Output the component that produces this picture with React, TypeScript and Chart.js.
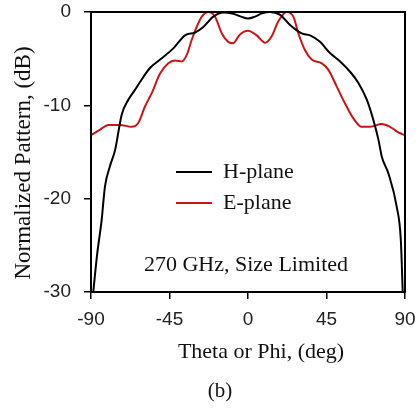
import React, { useEffect, useRef } from "react";
import { Chart, registerables } from "chart.js";

Chart.register(...registerables);

const hTheta = [-88.7, -86.5, -83.9, -82, -79.1, -76.2, -72.4, -68.6, -65, -61.9, -56.2, -50.4, -42.8, -36.1, -30.4, -25.6, -19.9, -14.1, -8.4, -4, 0, 4, 8, 12.6, 18.4, 24.1, 30.8, 35.6, 41.3, 47, 52.8, 58.5, 63.3, 68.1, 71.9, 74.8, 76.7, 80.5, 85.3, 87.6, 88.7];
const hValues = [-30, -26, -22.3, -18.7, -16.5, -14.8, -11.0, -9.4, -8.4, -7.5, -6.0, -5.1, -3.9, -2.5, -2.2, -1.6, -0.5, -0.05, -0.2, -0.5, -0.7, -0.5, -0.15, 0, -0.3, -1.4, -2.3, -2.5, -3.2, -4.4, -5.3, -6.4, -7.6, -9.4, -11.6, -13.7, -15.5, -17.3, -20.9, -24.4, -30];

const eTheta = [-90, -84.8, -80, -73.4, -66.7, -62.9, -59, -55.2, -50.4, -45.7, -41.8, -38, -35.1, -32.3, -29.4, -26.5, -22.7, -18.9, -15, -11.3, -8.6, -4.6, 0, 5, 9.8, 13.6, 17.4, 22.2, 26, 28.9, 32.7, 36.5, 42.3, 46.1, 50.9, 55.6, 60.4, 65.2, 70, 76.7, 81.4, 86.2, 90];
const eValues = [-13.2, -12.6, -12.1, -12.1, -12.3, -11.9, -10.1, -8.7, -6.6, -5.5, -5.2, -5.3, -4.6, -3.0, -1.6, -0.5, 0, -0.5, -2.3, -3.2, -3.35, -2.4, -2.0, -2.5, -3.3, -2.6, -1.0, 0, -0.5, -2.3, -4.1, -5.1, -5.5, -6.2, -8.0, -9.8, -11.4, -12.3, -12.3, -12.0, -12.3, -12.9, -13.2];

const xTicks = [-90, -45, 0, 45, 90];
const yTicks = [-30, -20, -10, 0];
const seriesLabels = ["H-plane", "E-plane"];
const seriesColors = ["#000000", "#cc1414"];
const xTitle = "Theta or Phi, (deg)";
const yTitle = "Normalized Pattern, (dB)";
const note = "270 GHz, Size Limited";
const caption = "(b)";

const SERIF = "'Liberation Serif', 'Times New Roman', serif";
const SANS = "'Liberation Sans', Arial, sans-serif";

export default function App() {
  const ref = useRef<HTMLCanvasElement | null>(null);

  useEffect(() => {
    const canvas = ref.current;
    if (!canvas) return;

    const textPlugin = {
      id: "texts",
      afterDraw(chart: any) {
        const ctx = chart.ctx as CanvasRenderingContext2D;
        const a = chart.chartArea;
        ctx.save();
        ctx.strokeStyle = "#000";
        ctx.lineWidth = 2;
        ctx.strokeRect(a.left, a.top, a.right - a.left, a.bottom - a.top);

        ctx.fillStyle = "#111";
        ctx.textBaseline = "middle";
        ctx.textAlign = "center";
        ctx.font = `22px ${SERIF}`;
        ctx.fillText(xTitle, 261, 352);
        ctx.font = `21px ${SERIF}`;
        ctx.fillText(caption, 220, 391);
        ctx.font = `22px ${SERIF}`;
        ctx.fillText(note, 246, 265);

        ctx.save();
        ctx.translate(24, 163);
        ctx.rotate(-Math.PI / 2);
        ctx.font = `23px ${SERIF}`;
        ctx.fillText(yTitle, 0, 0);
        ctx.restore();

        // legend
        const ys = [172, 203];
        ctx.textAlign = "left";
        ctx.font = `22px ${SERIF}`;
        seriesLabels.forEach((lab, i) => {
          ctx.strokeStyle = seriesColors[i];
          ctx.lineWidth = 2;
          ctx.beginPath();
          ctx.moveTo(176, ys[i]);
          ctx.lineTo(212, ys[i]);
          ctx.stroke();
          ctx.fillStyle = "#111";
          ctx.fillText(lab, 223, ys[i]);
        });
        ctx.restore();
      },
    };

    const chart = new Chart(canvas, {
      type: "line",
      data: {
        datasets: [
          {
            label: seriesLabels[0],
            data: hTheta.map((x, i) => ({ x, y: hValues[i] })),
            borderColor: seriesColors[0],
            borderWidth: 2,
            pointRadius: 0,
            cubicInterpolationMode: "monotone",
            fill: false,
          },
          {
            label: seriesLabels[1],
            data: eTheta.map((x, i) => ({ x, y: eValues[i] })),
            borderColor: seriesColors[1],
            borderWidth: 2,
            pointRadius: 0,
            cubicInterpolationMode: "monotone",
            fill: false,
          },
        ],
      },
      options: {
        animation: false,
        responsive: false,
        devicePixelRatio: 1,
        layout: { padding: { top: 12, right: 11, left: 0, bottom: 0 } },
        plugins: { legend: { display: false }, tooltip: { enabled: false }, title: { display: false } },
        scales: {
          x: {
            type: "linear",
            min: -90,
            max: 90,
            afterBuildTicks: (s: any) => {
              s.ticks = xTicks.map((v) => ({ value: v }));
            },
            afterFit: (s: any) => {
              s.height = 116;
              s.paddingLeft = 0;
              s.paddingRight = 0;
            },
            ticks: { font: { family: SANS, size: 19 }, color: "#222", padding: 9, maxRotation: 0 },
            grid: { drawOnChartArea: false, drawTicks: true, tickLength: 7, color: "#000", lineWidth: 1.5 },
            border: { display: true, color: "#000", width: 2 },
          },
          y: {
            type: "linear",
            min: -30,
            max: 0,
            afterBuildTicks: (s: any) => {
              s.ticks = yTicks.map((v) => ({ value: v }));
            },
            afterFit: (s: any) => {
              s.width = 91;
              s.paddingTop = 0;
              s.paddingBottom = 0;
            },
            ticks: { font: { family: SANS, size: 19 }, color: "#222", padding: 13 },
            grid: { drawOnChartArea: false, drawTicks: true, tickLength: 7, color: "#000", lineWidth: 1.5 },
            border: { display: true, color: "#000", width: 2 },
          },
        },
      },
      plugins: [textPlugin],
    } as any);

    return () => chart.destroy();
  }, []);

  return (
    <div style={{ position: "absolute", left: 0, top: 0, width: 416, height: 408, background: "#fff" }}>
      <canvas ref={ref} width={416} height={408} style={{ width: 416, height: 408, display: "block" }} />
    </div>
  );
}
